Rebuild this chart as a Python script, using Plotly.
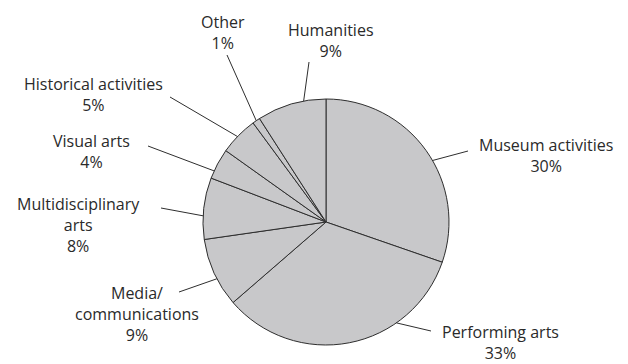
import math
import plotly.graph_objects as go

# ---- data ----
categories = ["Museum activities", "Performing arts", "Media/<br>communications",
              "Multidisciplinary<br>arts", "Visual arts", "Historical activities",
              "Other", "Humanities"]
values = [30, 33, 9, 8, 4, 5, 1, 9]
pct_labels = ["30%", "33%", "9%", "8%", "4%", "5%", "1%", "9%"]

# ---- layout / style ----
W, H = 628, 364
CX, CY, R = 326, 222, 123          # pie centre & radius in pixels
label_pos = [(546, 155), (500, 342), (137, 314), (78, 225),
             (91, 151), (93, 95), (223, 32), (331, 40)]
leader_end = [(468, 151), (431, 331), (179, 292), (161, 208),
              (148, 146), (170, 97), (227, 55), (309, 62)]
leader_frac = [0.55, 0.30, 0.41, 0.38, 0.25, 0.47, 0.5, 0.68]
FILL = "#c8c8ca"
EDGE = "#2e2e2e"
FONT = dict(family="Open Sans, Liberation Sans, Arial, sans-serif", size=16, color="#2a2a2a")


def px(x, y):
    return x / W, 1 - y / H


fig = go.Figure(go.Pie(
    labels=categories, values=values, sort=False, direction="clockwise",
    rotation=0, textinfo="none", hoverinfo="label+percent",
    marker=dict(colors=[FILL] * len(values), line=dict(color=EDGE, width=1)),
    domain=dict(x=[(CX - R) / W, (CX + R) / W],
                y=[1 - (CY + R) / H, 1 - (CY - R) / H]),
    showlegend=False,
))

total = sum(values)
cum = 0
shapes, annotations = [], []
for i, v in enumerate(values):
    start = cum / total * 360
    width = v / total * 360
    cum += v
    ang = math.radians(start + leader_frac[i] * width)
    ix, iy = CX + R * math.sin(ang), CY - R * math.cos(ang)
    x0, y0 = px(ix, iy)
    x1, y1 = px(*leader_end[i])
    shapes.append(dict(type="line", xref="paper", yref="paper", x0=x0, y0=y0,
                       x1=x1, y1=y1, line=dict(color=EDGE, width=1)))
    lx, ly = px(*label_pos[i])
    annotations.append(dict(text=f"{categories[i]}<br>{pct_labels[i]}",
                            xref="paper", yref="paper", x=lx, y=ly,
                            xanchor="center", yanchor="middle", showarrow=False,
                            align="center", font=FONT))

fig.update_layout(width=W, height=H, margin=dict(l=0, r=0, t=0, b=0, pad=0),
                  paper_bgcolor="white", plot_bgcolor="white",
                  shapes=shapes, annotations=annotations)
fig.write_html("out.html")
